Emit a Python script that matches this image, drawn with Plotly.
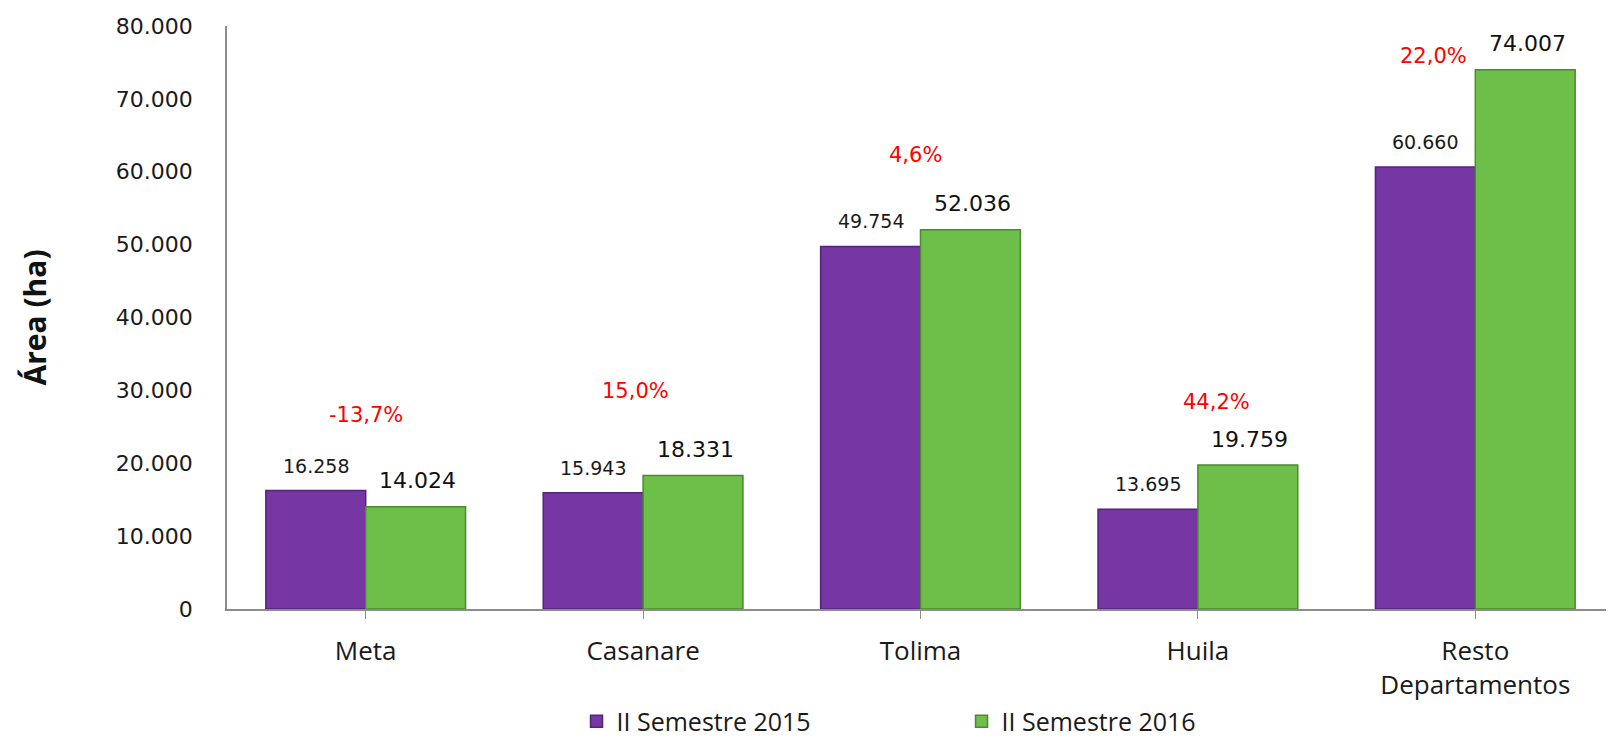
import plotly.graph_objects as go

categories = ["Meta", "Casanare", "Tolima", "Huila", "Resto<br>Departamentos"]
series_2015 = [16258, 15943, 49754, 13695, 60660]
series_2016 = [14024, 18331, 52036, 19759, 74007]
pct_change = ["-13,7%", "15,0%", "4,6%", "44,2%", "22,0%"]
y_ticks = [0, 10000, 20000, 30000, 40000, 50000, 60000, 70000, 80000]
y_tick_labels = ["0", "10.000", "20.000", "30.000", "40.000", "50.000", "60.000", "70.000", "80.000"]
series_names = ["II Semestre 2015", "II Semestre 2016"]

# style
purple = "#7636A4"
purple_edge = "#55237A"
green = "#6DBF4A"
green_edge = "#4B8A2E"
pct_yshift = [76, 84, 75, 63, 14]
pct_xshift = [0, -8, -5, 19, -42]


def fmt(v):
    return f"{v:,}".replace(",", ".")


fig = go.Figure()
fig.add_trace(go.Bar(
    x=categories, y=series_2015, name=series_names[0],
    marker=dict(color=purple, line=dict(color=purple_edge, width=1.5)),
))
fig.add_trace(go.Bar(
    x=categories, y=series_2016, name=series_names[1],
    marker=dict(color=green, line=dict(color=green_edge, width=1.5)),
))

annotations = []
for i, c in enumerate(categories):
    annotations.append(dict(
        x=c, y=series_2015[i], xref="x", yref="y", text=fmt(series_2015[i]),
        showarrow=False, xshift=-50, yshift=25, yanchor="middle",
        font=dict(family="DejaVu Sans", size=19, color="#1a1a1a"),
    ))
    annotations.append(dict(
        x=c, y=series_2016[i], xref="x", yref="y", text=fmt(series_2016[i]),
        showarrow=False, xshift=52, yshift=26, yanchor="middle",
        font=dict(family="DejaVu Sans", size=22, color="#111111"),
    ))
    annotations.append(dict(
        x=c, y=max(series_2015[i], series_2016[i]), xref="x", yref="y",
        text=pct_change[i], showarrow=False,
        xshift=pct_xshift[i], yshift=pct_yshift[i], yanchor="middle",
        font=dict(family="DejaVu Sans", size=21, color="#FF0000"),
    ))

fig.update_layout(
    width=1606, height=735,
    paper_bgcolor="white", plot_bgcolor="white",
    margin=dict(l=219, r=0, t=18, b=134, autoexpand=False),
    barmode="group", bargap=0.28, bargroupgap=0,
    annotations=annotations,
    legend=dict(
        orientation="h", x=0.252, xanchor="left",
        y=-0.193, yanchor="middle",
        font=dict(family="Open Sans", size=25, color="#1a1a1a"),
        entrywidth=340,
    ),
    xaxis=dict(
        showline=True, linecolor="#8c8c8c", linewidth=1.5,
        ticks="outside", ticklen=8, tickcolor="#8c8c8c",
        tickfont=dict(family="Open Sans", size=26, color="#1a1a1a"),
        ticklabelstandoff=10, automargin=False,
    ),
    yaxis=dict(
        range=[0, 80000], tickvals=y_ticks, ticktext=y_tick_labels,
        showline=True, linecolor="#8c8c8c", linewidth=1.5,
        showgrid=False, zeroline=False, ticks="",
        tickfont=dict(family="DejaVu Sans", size=22, color="#1a1a1a"),
        ticklabelstandoff=28, automargin=False,
        title=dict(text="<b>Área (ha)</b>", standoff=60,
                   font=dict(family="Open Sans", size=30, color="#111111")),
    ),
)

fig.write_html("out.html")
